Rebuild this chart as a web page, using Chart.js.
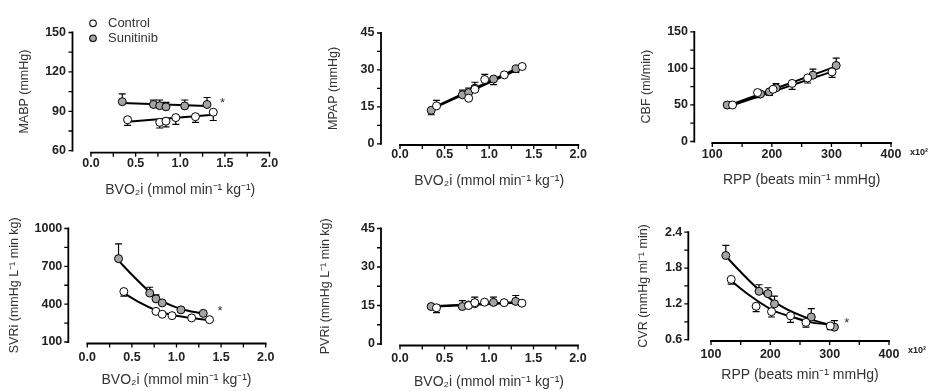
<!doctype html>
<html lang="en">
<head>
<meta charset="UTF-8">
<title>Hemodynamics: Control vs Sunitinib</title>
<script src="https://cdn.jsdelivr.net/npm/chart.js"></script>
<style>
  body { margin: 0; background: #fff; width: 932px; height: 391px; position: relative; overflow: hidden; }
  canvas { position: absolute; }
</style>
</head>
<body>
<canvas id="mabp"></canvas>
<canvas id="mpap"></canvas>
<canvas id="cbf"></canvas>
<canvas id="svri"></canvas>
<canvas id="pvri"></canvas>
<canvas id="cvr"></canvas>
<script>
// x values (shared by panels)
const bvoCtl = [0.41, 0.77, 0.84, 0.95, 1.17, 1.37];
const bvoSun = [0.35, 0.70, 0.77, 0.84, 1.05, 1.30];
const rppCtl = [134, 176, 202, 234, 260, 301];
const rppSun = [125, 181, 196, 207, 269, 308];

// tick values / labels
const bvoTicks = [0, 0.5, 1, 1.5, 2];
const bvoTickLabels = ['0.0', '0.5', '1.0', '1.5', '2.0'];
const bvoMinor = [0.25, 0.75, 1.25, 1.75];
const rppTicks = [100, 200, 300, 400];
const rppTickLabels = ['100', '200', '300', '400'];
const rppMinor = [150, 250, 350];

// MABP
const mabpCtl = [83.6, 81.6, 82.5, 85.2, 85.9, 89.3];
const mabpCtlErr = [79.3, 77.3, 78.2, 80.0, 81.6, 83.0];
const mabpSun = [97.3, 95.2, 94.3, 93.4, 94.1, 95.2];
const mabpSunErr = [103.2, 98.6, 98.6, 96.8, 98.6, 100.5];
const mabpCtlFitX = [0.41, 1.37], mabpCtlFitY = [82.0, 87.3];
const mabpSunFitX = [0.35, 1.30], mabpSunFitY = [96.4, 94.1];
const mabpYTicks = [60, 90, 120, 150], mabpYMinor = [75, 105, 135];

// MPAP
const mpapCtl = [15.4, 18.5, 22.1, 26.1, 28.0, 31.4];
const mpapCtlErr = [17.6, 18.0, 25.0, 28.2, 28.5, 31.8];
const mpapSun = [13.6, 19.9, 20.8, 22.6, 26.3, 30.5];
const mpapSunErr = [11.8, 21.8, 22.6, 23.5, 24.0, 29.0];
const mpapCtlFitX = [0.41, 1.37], mpapCtlFitY = [15.0, 31.0];
const mpapSunFitX = [0.35, 1.30], mpapSunFitY = [14.3, 30.4];
const mpapYTicks = [0, 15, 30, 45], mpapYMinor = [7.5, 22.5, 37.5];

// CBF
const cbfCtl = [49.9, 66.9, 71.4, 79.4, 86.9, 95.2];
const cbfCtlErr = [49.0, 60.0, 70.5, 71.4, 80.0, 87.6];
const cbfSun = [49.9, 65.0, 68.0, 73.3, 90.7, 103.9];
const cbfSunErr = [49.0, 64.0, 63.0, 79.0, 99.0, 114.0];
const cbfCtlFitX = [134, 301], cbfCtlFitY = [49.5, 95.5];
const cbfSunFitX = [125, 308], cbfSunFitY = [48.5, 102.7];
const cbfYTicks = [0, 50, 100, 150], cbfYMinor = [25, 75, 125];

// SVRi
const svriCtl = [500, 343, 320, 309, 291, 277];
const svriCtlErr = [463, 335, 312, 300, 283, 270];
const svriSun = [761, 488, 442, 410, 355, 327];
const svriSunErr = [878, 534, 474, 425, 368, 340];
const svriCtlFitX = [0.41, 0.59, 0.76, 0.95, 1.17, 1.37];
const svriCtlFitY = [488, 412, 355, 314, 291, 272];
const svriSunFitX = [0.35, 0.52, 0.70, 0.84, 1.05, 1.30];
const svriSunFitY = [745, 619, 497, 424, 362, 325];
const svriYTicks = [100, 400, 700, 1000], svriYMinor = [250, 550, 850];

// PVRi
const pvriCtl = [14.1, 15.0, 16.1, 16.3, 16.1, 15.9];
const pvriCtlErr = [12.2, 14.4, 18.3, 15.7, 15.5, 15.3];
const pvriSun = [14.6, 14.6, 15.2, 15.7, 16.2, 16.6];
const pvriSunErr = [15.2, 16.9, 16.0, 16.5, 18.3, 18.9];
const pvriCtlFitX = [0.41, 1.37], pvriCtlFitY = [14.6, 16.2];
const pvriSunFitX = [0.35, 1.30], pvriSunFitY = [14.7, 16.3];
const pvriYTicks = [0, 15, 30, 45], pvriYMinor = [7.5, 22.5, 37.5];

// CVR
const cvrCtl = [1.61, 1.16, 1.07, 1.00, 0.89, 0.83];
const cvrCtlErr = [1.53, 1.07, 0.98, 0.89, 0.81, 0.77];
const cvrSun = [2.01, 1.41, 1.37, 1.20, 0.98, 0.81];
const cvrSunErr = [2.18, 1.52, 1.47, 1.33, 1.12, 0.92];
const cvrCtlFitX = [134, 166, 202, 237, 271, 303];
const cvrCtlFitY = [1.585, 1.335, 1.105, 0.98, 0.886, 0.853];
const cvrSunFitX = [125, 149, 181, 222, 267, 306];
const cvrSunFitY = [2.0, 1.745, 1.434, 1.14, 0.944, 0.83];
const cvrYTicks = [0.6, 1.2, 1.8, 2.4], cvrYMinor = [0.9, 1.5, 2.1];
const cvrYTickLabels = ['0.6', '1.2', '1.8', '2.4'];

const FONT = '"Liberation Sans", Arial, Helvetica, sans-serif';
const GREY = '#a4a4a4';
const XTITLE_SIZE = 14;
const YTITLE_SIZE = 12.5;
const TICK_SIZE = 12.5;
Chart.defaults.font.family = FONT;

const zip = (xs, ys) => xs.map((x, i) => ({ x: x, y: ys[i] }));

// Prism-style detached axes, error bars, legend and notes
const prism = {
  id: 'prism',
  beforeDatasetsDraw(chart) {
    const ctx = chart.ctx, ys = chart.scales.y;
    ctx.save();
    ctx.strokeStyle = '#000';
    ctx.lineWidth = 1.2;
    chart.data.datasets.forEach((ds, i) => {
      if (!ds.errTo) return;
      chart.getDatasetMeta(i).data.forEach((pt, j) => {
        const ye = ys.getPixelForValue(ds.errTo[j]);
        ctx.beginPath();
        ctx.moveTo(pt.x, pt.y);
        ctx.lineTo(pt.x, ye);
        ctx.moveTo(pt.x - 3.5, ye);
        ctx.lineTo(pt.x + 3.5, ye);
        ctx.stroke();
      });
    });
    ctx.restore();
  },
  afterDraw(chart, args, o) {
    const ctx = chart.ctx, xs = chart.scales.x, ys = chart.scales.y;
    const ax = chart.chartArea.left - o.yGap;
    const ay = chart.chartArea.bottom + o.xGap;
    ctx.save();
    ctx.strokeStyle = '#000';
    ctx.lineWidth = 1.8;
    ctx.beginPath();
    ctx.moveTo(ax, ys.getPixelForValue(ys.max) - 0.9);
    ctx.lineTo(ax, ys.getPixelForValue(ys.min) + 0.9);
    ctx.moveTo(xs.getPixelForValue(xs.min) - 0.9, ay);
    ctx.lineTo(xs.getPixelForValue(xs.max) + 0.9, ay);
    ctx.stroke();
    ctx.lineWidth = 1.3;
    ctx.beginPath();
    o.yMarks.forEach(v => {
      const p = ys.getPixelForValue(v);
      ctx.moveTo(ax, p); ctx.lineTo(ax - 4, p);
    });
    o.xMarks.forEach(v => {
      const p = xs.getPixelForValue(v);
      ctx.moveTo(p, ay); ctx.lineTo(p, ay + 4);
    });
    ctx.stroke();

    ctx.fillStyle = '#333';
    (o.notes || []).forEach(n => {
      ctx.font = '13px ' + FONT;
      ctx.textAlign = 'center';
      ctx.textBaseline = 'alphabetic';
      ctx.fillText(n.text, xs.getPixelForValue(n.x), ys.getPixelForValue(n.y) + 2.5);
    });
    if (o.scaleNote) {
      ctx.font = 'bold 9px ' + FONT;
      ctx.textAlign = 'center';
      ctx.textBaseline = 'middle';
      ctx.fillStyle = '#222';
      ctx.fillText(o.scaleNote, chart.chartArea.right + 28, ay + 10);
    }
    if (o.legend) {
      const lg = o.legend;
      [1, 0].forEach((dsIndex, row) => {
        const ds = chart.data.datasets[dsIndex];
        const y = lg.y + row * lg.dy;
        ctx.beginPath();
        ctx.arc(lg.x, y, 3.3, 0, Math.PI * 2);
        ctx.fillStyle = ds.backgroundColor;
        ctx.fill();
        ctx.lineWidth = 1.1;
        ctx.stroke();
        ctx.fillStyle = '#333';
        ctx.font = '13px ' + FONT;
        ctx.textAlign = 'left';
        ctx.textBaseline = 'middle';
        ctx.fillText(ds.label, lg.x + 15, y);
      });
    }
    ctx.restore();
  }
};

function panel(id, box, p) {
  const cv = document.getElementById(id);
  cv.width = box.w; cv.height = box.h;
  cv.style.left = box.l + 'px';
  cv.style.top = box.t + 'px';
  const lhY = YTITLE_SIZE * 1.2, lhX = XTITLE_SIZE * 1.2, lhT = TICK_SIZE * 1.2;

  const fit = (xs, ys) => ({
    type: 'line', data: zip(xs, ys), showLine: true, pointRadius: 0,
    borderColor: '#000', borderWidth: 2, fill: false,
    cubicInterpolationMode: 'monotone', order: 3
  });
  const pts = (label, xs, ys, err, color, order) => ({
    type: 'scatter', label: label, data: zip(xs, ys), errTo: err,
    backgroundColor: color, borderColor: '#000', borderWidth: 1,
    pointRadius: 4, pointHoverRadius: 4, order: order
  });

  new Chart(cv, {
    type: 'scatter',
    data: {
      datasets: [
        pts('Sunitinib', p.sunX, p.sun, p.sunErr, GREY, 2),
        pts('Control', p.ctlX, p.ctl, p.ctlErr, '#fff', 1),
        fit(p.sunFitX, p.sunFitY),
        fit(p.ctlFitX, p.ctlFitY)
      ]
    },
    options: {
      responsive: false,
      animation: false,
      events: [],
      layout: { padding: { left: 0, top: box.at - box.t, right: box.l + box.w - box.ar, bottom: 0 } },
      plugins: {
        legend: { display: false },
        tooltip: { enabled: false },
        prism: {
          yGap: box.al - box.yAxisX,
          xGap: box.xAxisY - box.ab,
          yMarks: p.yTicks.concat(p.yMinor),
          xMarks: p.xTicks.concat(p.xMinor),
          notes: p.notes,
          scaleNote: p.scaleNote,
          legend: p.legend
        }
      },
      scales: {
        x: {
          type: 'linear',
          min: p.xTicks[0], max: p.xTicks[p.xTicks.length - 1],
          afterBuildTicks: s => { s.ticks = p.xTicks.map(v => ({ value: v })); },
          afterFit: s => { s.height = box.t + box.h - box.ab; },
          grid: { display: false, drawTicks: false },
          border: { display: false },
          ticks: {
            autoSkip: false, maxRotation: 0,
            padding: box.xLabY - box.ab - lhT / 2,
            font: { size: TICK_SIZE, weight: 'bold' }, color: '#222',
            callback: (v, i) => p.xTickLabels[i]
          },
          title: {
            display: true, text: p.xTitle, color: '#333', font: { size: XTITLE_SIZE },
            padding: { top: 0, bottom: box.t + box.h - box.xTitY - lhX / 2 }
          }
        },
        y: {
          type: 'linear',
          min: p.yTicks[0], max: p.yTicks[p.yTicks.length - 1],
          afterBuildTicks: s => { s.ticks = p.yTicks.map(v => ({ value: v })); },
          afterFit: s => { s.width = box.al - box.l; },
          grid: { display: false, drawTicks: false },
          border: { display: false },
          ticks: {
            autoSkip: false,
            padding: box.al - box.yLabR,
            font: { size: TICK_SIZE, weight: 'bold' }, color: '#222',
            callback: (v, i) => (p.yTickLabels ? p.yTickLabels[i] : String(v))
          },
          title: {
            display: true, text: p.yTitle, color: '#333', font: { size: YTITLE_SIZE },
            padding: { top: box.yTitX - box.l - lhY / 2, bottom: 0 }
          }
        }
      }
    },
    plugins: [prism]
  });
}

const bvoTitle = 'BVO\u2082i (mmol min\u207B\u00B9 kg\u207B\u00B9)';
const rppTitle = 'RPP (beats min\u207B\u00B9 mmHg)';
const bvoAxis = { xTicks: bvoTicks, xTickLabels: bvoTickLabels, xMinor: bvoMinor, xTitle: bvoTitle, ctlX: bvoCtl, sunX: bvoSun };
const rppAxis = { xTicks: rppTicks, xTickLabels: rppTickLabels, xMinor: rppMinor, xTitle: rppTitle, ctlX: rppCtl, sunX: rppSun, scaleNote: 'x10\u00B2' };

panel('mabp',
  { l: 0, t: 0, w: 300, h: 200, al: 91, ar: 269.5, at: 19, ab: 150.7, yAxisX: 72.5, xAxisY: 152.7, yLabR: 66, xLabY: 163.5, yTitX: 25, xTitY: 190 },
  Object.assign({}, bvoAxis, {
    yTitle: 'MABP (mmHg)', yTicks: mabpYTicks, yMinor: mabpYMinor,
    ctl: mabpCtl, ctlErr: mabpCtlErr, sun: mabpSun, sunErr: mabpSunErr,
    ctlFitX: mabpCtlFitX, ctlFitY: mabpCtlFitY, sunFitX: mabpSunFitX, sunFitY: mabpSunFitY,
    notes: [{ x: 1.475, y: 95.5, text: '*' }],
    legend: { x: 93, y: 23.3, dy: 15 }
  }));

panel('mpap',
  { l: 300, t: 0, w: 310, h: 200, al: 400, ar: 578.3, at: 13, ab: 143.8, yAxisX: 381, xAxisY: 145, yLabR: 374.5, xLabY: 155, yTitX: 333.3, xTitY: 181.5 },
  Object.assign({}, bvoAxis, {
    yTitle: 'MPAP (mmHg)', yTicks: mpapYTicks, yMinor: mpapYMinor,
    ctl: mpapCtl, ctlErr: mpapCtlErr, sun: mpapSun, sunErr: mpapSunErr,
    ctlFitX: mpapCtlFitX, ctlFitY: mpapCtlFitY, sunFitX: mpapSunFitX, sunFitY: mpapSunFitY
  }));

panel('cbf',
  { l: 610, t: 0, w: 322, h: 200, al: 712.3, ar: 891, at: 10.3, ab: 141.5, yAxisX: 694.3, xAxisY: 143, yLabR: 688, xLabY: 154.5, yTitX: 647, xTitY: 180 },
  Object.assign({}, rppAxis, {
    yTitle: 'CBF (ml/min)', yTicks: cbfYTicks, yMinor: cbfYMinor,
    ctl: cbfCtl, ctlErr: cbfCtlErr, sun: cbfSun, sunErr: cbfSunErr,
    ctlFitX: cbfCtlFitX, ctlFitY: cbfCtlFitY, sunFitX: cbfSunFitX, sunFitY: cbfSunFitY
  }));

panel('svri',
  { l: 0, t: 196, w: 300, h: 195, al: 87.3, ar: 265.7, at: 211.3, ab: 342, yAxisX: 68.3, xAxisY: 343.5, yLabR: 62.3, xLabY: 357.3, yTitX: 15, xTitY: 380 },
  Object.assign({}, bvoAxis, {
    yTitle: 'SVRi (mmHg L\u207B\u00B9 min kg)', yTicks: svriYTicks, yMinor: svriYMinor,
    ctl: svriCtl, ctlErr: svriCtlErr, sun: svriSun, sunErr: svriSunErr,
    ctlFitX: svriCtlFitX, ctlFitY: svriCtlFitY, sunFitX: svriSunFitX, sunFitY: svriSunFitY,
    notes: [{ x: 1.488, y: 334, text: '*' }]
  }));

panel('pvri',
  { l: 300, t: 196, w: 310, h: 195, al: 400, ar: 578, at: 214, ab: 344, yAxisX: 381, xAxisY: 345.5, yLabR: 375, xLabY: 358.3, yTitX: 325.5, xTitY: 381.7 },
  Object.assign({}, bvoAxis, {
    yTitle: 'PVRi (mmHg L\u207B\u00B9 min kg)', yTicks: pvriYTicks, yMinor: pvriYMinor,
    ctl: pvriCtl, ctlErr: pvriCtlErr, sun: pvriSun, sunErr: pvriSunErr,
    ctlFitX: pvriCtlFitX, ctlFitY: pvriCtlFitY, sunFitX: pvriSunFitX, sunFitY: pvriSunFitY
  }));

panel('cvr',
  { l: 610, t: 196, w: 322, h: 195, al: 711, ar: 889, at: 208.7, ab: 339.7, yAxisX: 688.3, xAxisY: 341, yLabR: 682.3, xLabY: 354.3, yTitX: 644, xTitY: 375 },
  Object.assign({}, rppAxis, {
    yTitle: 'CVR (mmHg ml\u207B\u00B9 min)', yTicks: cvrYTicks, yMinor: cvrYMinor, yTickLabels: cvrYTickLabels,
    ctl: cvrCtl, ctlErr: cvrCtlErr, sun: cvrSun, sunErr: cvrSunErr,
    ctlFitX: cvrCtlFitX, ctlFitY: cvrCtlFitY, sunFitX: cvrSunFitX, sunFitY: cvrSunFitY,
    notes: [{ x: 328.7, y: 0.857, text: '*' }]
  }));
</script>
</body>
</html>
